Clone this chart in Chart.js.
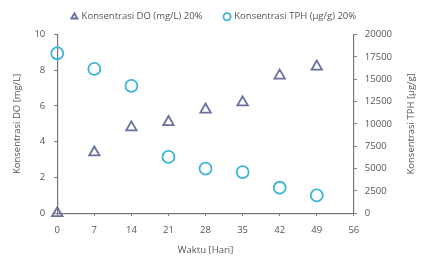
<!DOCTYPE html>
<html>
<head>
<meta charset="utf-8">
<script src="https://cdn.jsdelivr.net/npm/chart.js@4"></script>
<style>
html, body { margin: 0; padding: 0; background: #fff; }
#wrap { width: 423px; height: 256px; }
</style>
</head>
<body>
<div id="wrap"><canvas id="grafica"></canvas></div>
<script>
// datos
const hari = [0, 7, 14, 21, 28, 35, 42, 49];
const konsentrasiDO = [0, 3.4, 4.8, 5.1, 5.8, 6.2, 7.7, 8.2];
const konsentrasiTPH = [17900, 16150, 14250, 6300, 5000, 4600, 2850, 2000];
const namaSeri = ['Konsentrasi DO (mg/L) 20%', 'Konsentrasi TPH (µg/g) 20%'];
const judulKanan = 'Konsentrasi TPH [µg/g]';

const warnaDO = '#67719e';
const warnaTPH = '#3eb4d8';
const tickColor = '#555';
const axisColor = '#777';

// titulo del eje derecho, leido de abajo hacia arriba como el izquierdo
const tituloDerecho = {
  id: 'tituloDerecho',
  afterDraw(chart) {
    const c = chart.ctx;
    const area = chart.chartArea;
    c.save();
    c.translate(411, (area.top + area.bottom) / 2);
    c.rotate(-Math.PI / 2);
    c.fillStyle = tickColor;
    c.font = '9.5px "Open Sans"';
    c.textAlign = 'center';
    c.textBaseline = 'middle';
    c.fillText(judulKanan, 0, 0);
    c.restore();
  }
};

// ajustar altura de la leyenda y moverla un poco a la derecha
const ajusteLeyenda = {
  id: 'ajusteLeyenda',
  beforeInit(chart) {
    const fit = chart.legend.fit;
    chart.legend.fit = function () {
      fit.bind(chart.legend)();
      this.height += 3;
    };
  },
  afterLayout(chart) {
    chart.legend.left += 10;
    chart.legend.right += 10;
  }
};

const ctx = document.getElementById('grafica');

new Chart(ctx, {
  type: 'scatter',
  data: {
    datasets: [{
      label: namaSeri[0],
      data: hari.map((h, i) => ({ x: h, y: konsentrasiDO[i] })),
      pointStyle: 'triangle',
      pointRadius: 6,
      borderColor: warnaDO,
      backgroundColor: 'rgba(0,0,0,0)',
      borderWidth: 1.8,
      yAxisID: 'y',
      clip: false
    }, {
      label: namaSeri[1],
      data: hari.map((h, i) => ({ x: h, y: konsentrasiTPH[i] })),
      pointStyle: 'circle',
      pointRadius: 6,
      borderColor: warnaTPH,
      backgroundColor: 'rgba(0,0,0,0)',
      borderWidth: 1.8,
      yAxisID: 'y2',
      clip: false
    }]
  },
  options: {
    responsive: true,
    maintainAspectRatio: false,
    animation: false,
    layout: { padding: { left: 8, right: 23, top: -10, bottom: 0 } },
    plugins: {
      legend: {
        position: 'top',
        labels: {
          usePointStyle: true,
          boxWidth: 5,
          boxHeight: 5,
          padding: 22,
          font: { family: 'Open Sans', size: 9.5 },
          color: '#555'
        }
      },
      tooltip: { enabled: false }
    },
    scales: {
      x: {
        type: 'linear',
        min: 0,
        max: 56,
        ticks: { stepSize: 7, color: tickColor, font: { family: 'Open Sans', size: 9.5 }, padding: 8 },
        grid: { drawOnChartArea: false, drawTicks: true, tickLength: 3, color: axisColor },
        border: { color: axisColor, width: 1.2 },
        title: { display: true, text: 'Waktu [Hari]', color: tickColor, font: { family: 'Open Sans', size: 9.5 }, padding: { top: 1, bottom: 0 } }
      },
      y: {
        position: 'left',
        min: 0,
        max: 10,
        ticks: { stepSize: 2, color: tickColor, font: { family: 'Open Sans', size: 9.5 }, padding: 9 },
        grid: { drawOnChartArea: false, drawTicks: true, tickLength: 3, color: axisColor },
        border: { color: axisColor, width: 1.2 },
        title: { display: true, text: 'Konsentrasi DO [mg/L]', color: tickColor, font: { family: 'Open Sans', size: 9.5 }, padding: { top: 4, bottom: 2 } }
      },
      y2: {
        position: 'right',
        min: 0,
        max: 20000,
        ticks: { stepSize: 2500, color: tickColor, font: { family: 'Open Sans', size: 9.5 }, padding: 8,
          callback: v => String(v) },
        grid: { drawOnChartArea: false, drawTicks: true, tickLength: 3, color: axisColor },
        border: { color: axisColor, width: 1.2 }
      }
    }
  },
  plugins: [tituloDerecho, ajusteLeyenda]
});
</script>
</body>
</html>
